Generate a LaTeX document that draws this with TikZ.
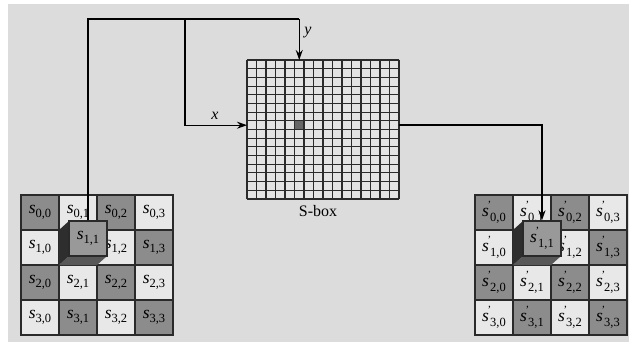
\documentclass[tikz,border=0pt]{standalone}
\usepackage{fontspec}
\setmainfont{Liberation Serif}
\usetikzlibrary{arrows.meta}

\definecolor{bgGray}{HTML}{DCDCDC}
\definecolor{cellDark}{HTML}{8C8C8C}
\definecolor{cellLight}{HTML}{E8E8E8}
\definecolor{cubeFront}{HTML}{999999}
\definecolor{cubeSide}{HTML}{2E2E2E}
\definecolor{lineGray}{HTML}{2A2A2A}

% state entries s_{i,j} and s'_{i,j}
\newcommand{\sname}[2]{\textit{s}\raisebox{-4.5pt}{\fontsize{12.5}{12.5}\selectfont #1,#2}}
\newcommand{\spname}[2]{\textit{s}\kern-1.5pt\raisebox{8pt}{\fontsize{11}{11}\selectfont'}\kern-1pt\raisebox{-4.5pt}{\fontsize{12.5}{12.5}\selectfont #1,#2}}

\tikzset{
  cell/.style={draw=lineGray, line width=1.3pt, minimum width=38pt, minimum height=35pt,
    inner sep=0pt, font=\fontsize{17.5}{19}\selectfont},
  wire/.style={line width=1.2pt, draw=black},
  outwire/.style={line width=2.2pt, draw=black},
  arrowhead/.style={-{Stealth[length=10pt,width=7pt]}},
  lbl/.style={inner sep=0pt, font=\fontsize{16}{18}\selectfont}
}

\begin{document}
\begin{tikzpicture}[x=1pt,y=-1pt]

% Background
\useasboundingbox (0,0) rectangle (629,342);
\fill[white] (0,0) rectangle (629,342);
\fill[bgGray] (8,4) rectangle (629,342);

% State before and after substitution
\foreach \i in {0,...,3}
  \foreach \j in {0,...,3} {
    \pgfmathtruncatemacro{\odd}{mod(\i+\j,2)}
    \ifnum\odd=0 \def\shade{cellDark}\else \def\shade{cellLight}\fi
    \ifnum\i\j=11
      \node[cell, fill=\shade] (L\i\j) at ({40+38*\j},{212.5+35*\i}) {};
      \node[cell, fill=\shade] (R\i\j) at ({494+38*\j},{212.5+35*\i}) {};
    \else
      \node[cell, fill=\shade] (L\i\j) at ({40+38*\j},{212.5+35*\i}) {\sname{\i}{\j}};
      \node[cell, fill=\shade] (R\i\j) at ({494+38*\j},{212.5+35*\i}) {\spname{\i}{\j}};
    \fi
  }

% Raised byte s_{1,1}
\fill[cubeSide] (59,230) -- (69,221) -- (69,256) -- (59,265) -- cycle;
\fill[cubeSide!80!white] (59,265) -- (69,256) -- (107,256) -- (97,265) -- cycle;
\node[cell, fill=cubeFront] (Lcube) at (88,238.5) {\sname{1}{1}};

% Raised byte s'_{1,1}
\fill[cubeSide] (513,230) -- (523,221) -- (523,256) -- (513,265) -- cycle;
\fill[cubeSide!80!white] (513,265) -- (523,256) -- (561,256) -- (551,265) -- cycle;
\node[cell, fill=cubeFront] (Rcube) at (542,238.5) {\spname{1}{1}};

% S-box table
\node[minimum width=152pt, minimum height=139pt, inner sep=0pt, fill=cellLight!60!bgGray] (sbox) at (323,129.5) {};
\fill[black!60] (294.5,120.8) rectangle (304,129.5);
\foreach \k in {0,...,16} {
  \draw[lineGray, line width=1.1pt] ({247+9.5*\k},60) -- ({247+9.5*\k},199);
  \draw[lineGray, line width=1.1pt] (247,{60+8.6875*\k}) -- (399,{60+8.6875*\k});
}
\node[lbl] (sboxlabel) at (318,211) {S-box};

% Row and column index
\coordinate (ybend) at (299.25,19);
\coordinate (yin) at (299.25,60);
\coordinate (xsplit) at (185,19);
\coordinate (xin) at (247,125.2);
\coordinate (zout) at (399,125.2);

\draw[wire] (Lcube.north) |- (ybend);
\draw[wire, arrowhead] (ybend) -- (yin);
\draw[wire, arrowhead] (xsplit) |- (xin);
\node[lbl] (ylabel) at (308,33) {\textit{y}};
\node[lbl] (xlabel) at (215,116) {\textit{x}};

% Substituted byte
\draw[outwire, arrowhead] (zout) -| (Rcube.north);

\end{tikzpicture}
\end{document}
